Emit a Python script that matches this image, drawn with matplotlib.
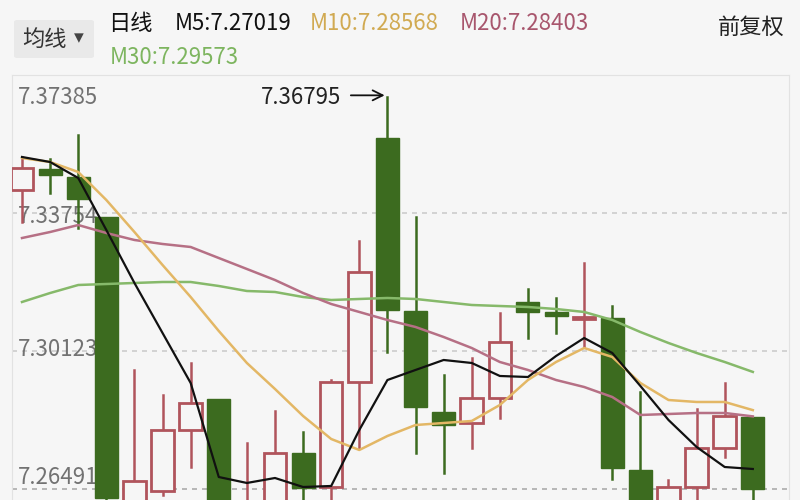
import matplotlib
matplotlib.use("Agg")
import matplotlib.pyplot as plt
from matplotlib.patches import Rectangle, FancyBboxPatch

plt.rcParams['font.family'] = ['Noto Sans CJK SC', 'DejaVu Sans']

# daily candles (open, high, low, close)
opens = [7.34359, 7.34912, 7.34701, 7.33649, 7.25940, 7.26440, 7.28045, 7.28861, 7.25282,
         7.26072, 7.27440, 7.26545, 7.29308, 7.35727, 7.31176, 7.28519, 7.28229, 7.28887,
         7.31413, 7.31150, 7.30965, 7.30992, 7.26993, 7.25809, 7.26545, 7.27571, 7.28387]
highs = [7.35228, 7.35175, 7.35806, 7.33649, 7.29624, 7.28966, 7.29808, 7.28861, 7.27703,
         7.28545, 7.27992, 7.29360, 7.33018, 7.36795, 7.33649, 7.29492, 7.29939, 7.31123,
         7.31755, 7.31518, 7.32439, 7.31307, 7.29045, 7.26729, 7.28597, 7.29282, 7.28387]
lows = [7.33517, 7.34280, 7.33360, 7.26124, 7.25677, 7.26335, 7.27071, 7.25414, 7.25150,
        7.25809, 7.26203, 7.25940, 7.27571, 7.30097, 7.27440, 7.26914, 7.27571, 7.28361,
        7.30465, 7.30597, 7.30229, 7.26756, 7.25150, 7.25545, 7.25940, 7.27335, 7.26124]
closes = [7.34938, 7.34754, 7.34123, 7.26256, 7.26703, 7.28045, 7.28755, 7.25545, 7.26072,
          7.27440, 7.26519, 7.29308, 7.32202, 7.31202, 7.28650, 7.28176, 7.28887, 7.30360,
          7.31150, 7.31044, 7.31018, 7.27045, 7.25414, 7.26545, 7.27571, 7.28413, 7.26493]

ma5 = [7.35228, 7.35096, 7.34675, 7.33307, 7.31913, 7.30597, 7.29282, 7.26808, 7.26651,
       7.26782, 7.26545, 7.26572, 7.28045, 7.29360, 7.29624, 7.29887, 7.29808, 7.29466,
       7.29439, 7.29992, 7.30465, 7.30071, 7.29203, 7.28308, 7.27598, 7.27071, 7.27019]
ma10 = [7.35201, 7.35096, 7.34833, 7.34096, 7.33254, 7.32386, 7.31544, 7.30650, 7.29808,
        7.29124, 7.28413, 7.27808, 7.27519, 7.27887, 7.28176, 7.28229, 7.28282, 7.28703,
        7.29360, 7.29834, 7.30202, 7.29966, 7.29282, 7.28834, 7.28782, 7.28782, 7.28568]
ma20 = [7.33096, 7.33254, 7.33438, 7.33228, 7.33044, 7.32939, 7.32860, 7.32570, 7.32281,
        7.31991, 7.31649, 7.31360, 7.31150, 7.30939, 7.30755, 7.30492, 7.30202, 7.29834,
        7.29624, 7.29360, 7.29176, 7.28913, 7.28440, 7.28466, 7.28492, 7.28492, 7.28403]
ma30 = [7.31413, 7.31649, 7.31860, 7.31886, 7.31913, 7.31939, 7.31939, 7.31834, 7.31702,
        7.31676, 7.31544, 7.31465, 7.31492, 7.31518, 7.31492, 7.31413, 7.31334, 7.31307,
        7.31281, 7.31228, 7.31150, 7.30939, 7.30623, 7.30334, 7.30071, 7.29834, 7.29573]

grid_levels = [7.37385, 7.33754, 7.30123, 7.26491]
high_label = "7.36795"

UP = '#b0545c'
DOWN = '#3c6b1f'
BG = '#f6f6f6'

fig = plt.figure(figsize=(8, 5), dpi=100, facecolor=BG)
ax = fig.add_axes([0.015, 0.0, 0.971, 0.85])
ax.set_facecolor(BG)

for i in range(len(opens)):
    o, h, l, c = opens[i], highs[i], lows[i], closes[i]
    up = c >= o
    col = UP if up else DOWN
    lo_b, hi_b = min(o, c), max(o, c)
    ax.plot([i, i], [hi_b, h], color=col, lw=1.8, zorder=2)
    ax.plot([i, i], [l, lo_b], color=col, lw=1.8, zorder=2)
    if up:
        ax.add_patch(Rectangle((i - 0.4, lo_b), 0.8, max(hi_b - lo_b, 0.0004),
                               facecolor=BG, edgecolor=col, lw=2, zorder=3))
    else:
        ax.add_patch(Rectangle((i - 0.41, lo_b), 0.82, max(hi_b - lo_b, 0.0008),
                               facecolor=col, edgecolor=col, lw=1, zorder=3))

x = list(range(len(ma5)))
ax.plot(x, ma30, color='#86b96a', lw=1.8, zorder=4)
ax.plot(x, ma20, color='#b67085', lw=1.8, zorder=4)
ax.plot(x, ma10, color='#e3b765', lw=1.8, zorder=4)
ax.plot(x, ma5, color='#111111', lw=1.6, zorder=5)

for lv in grid_levels[1:-1]:
    ax.axhline(lv, color='#cdcdcd', lw=1.2, ls=(0, (3, 3)), zorder=1)
ax.axhline(grid_levels[-1], color='#acacac', lw=1.2, ls=(0, (3, 3)), zorder=1)

lab_kw = dict(fontsize=16, color='#727272', transform=ax.get_yaxis_transform(), zorder=1.5)
ax.text(0.008, grid_levels[0] - 0.0058, grid_levels[0], va='center', **lab_kw)
ax.text(0.008, grid_levels[1] - 0.0009, f"{grid_levels[1]:.5f}", va='center', **lab_kw)
ax.text(0.008, grid_levels[2] + 0.0004, f"{grid_levels[2]:.5f}", va='center', **lab_kw)
ax.text(0.008, grid_levels[3] + 0.0030, f"{grid_levels[3]:.5f}", va='center', **lab_kw)

ax.annotate("", xy=(13.0, 7.3685), xytext=(11.6, 7.3685),
            arrowprops=dict(arrowstyle='->', color='#111111', lw=1.3, mutation_scale=18))
ax.text(11.35, 7.3680, high_label, ha='right', va='center', fontsize=16, color='#222222')

ax.set_xlim(-0.356, 27.28)
ax.set_ylim(7.26203, 7.37385)
ax.set_xticks([])
ax.set_yticks([])
for s in ['top', 'left', 'right']:
    ax.spines[s].set_color('#e2e2e2')
ax.spines['bottom'].set_visible(False)

# header
fig.patches.append(FancyBboxPatch((14 / 800, 1 - 58 / 500), 80 / 800, 38 / 500,
                                  boxstyle='round,pad=0,rounding_size=0.004',
                                  transform=fig.transFigure, facecolor='#e9e9e9',
                                  edgecolor='none'))
fig.text(22 / 800, 1 - 39 / 500, "均线", fontsize=16, color='#333333', va='center')
fig.text(74 / 800, 1 - 38 / 500, "▾", fontsize=14, color='#444444', va='center',
         family='DejaVu Sans')
fig.text(108 / 800, 1 - 24 / 500, "日线", fontsize=16, color='#111111', va='center')
fig.text(175 / 800, 1 - 24 / 500, "M5:7.27019", fontsize=16, color='#111111', va='center')
fig.text(310 / 800, 1 - 24 / 500, "M10:7.28568", fontsize=16, color='#d1aa52', va='center')
fig.text(460 / 800, 1 - 24 / 500, "M20:7.28403", fontsize=16, color='#a8566d', va='center')
fig.text(110 / 800, 1 - 57 / 500, "M30:7.29573", fontsize=16, color='#7db55f', va='center')
fig.text(785 / 800, 1 - 27 / 500, "前复权", fontsize=16, color='#222222', va='center',
         ha='right')

fig.savefig("out.png", dpi=100, facecolor=BG)
